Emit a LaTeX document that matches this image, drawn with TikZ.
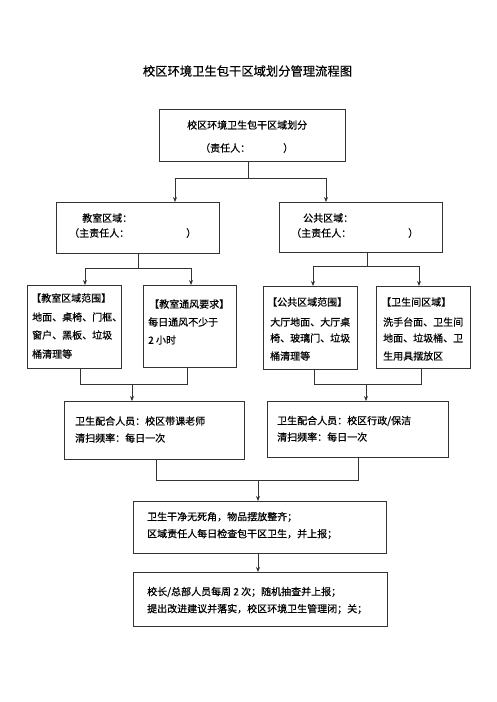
\documentclass[tikz,border=0pt]{standalone}
\usepackage{fontspec}
\setmainfont{Noto Sans CJK SC}[FakeBold=0.5]
\usetikzlibrary{arrows.meta}
\definecolor{linec}{HTML}{333333}
\begin{document}
\begin{tikzpicture}[x=1pt,y=-1pt]
\tikzset{
 box/.style={draw=linec, line width=0.9pt, anchor=north west, inner sep=0pt},
 txt/.style={anchor=west, inner sep=0pt, font=\fontsize{10pt}{12pt}\selectfont},
 conn/.style={draw=linec, line width=0.8pt},
 arr/.style={conn, -{Stealth[length=5pt,width=4pt]}},
}
\useasboundingbox[fill=white] (0,0) rectangle (496,702);

% title
\node[inner sep=0pt, font=\fontsize{12.3pt}{14pt}\selectfont] (title) at (247.5,71) {校区环境卫生包干区域划分管理流程图};

% boxes
\node[box, minimum width=186pt, minimum height=52pt] (A) at (159,109) {};
\node[box, minimum width=163pt, minimum height=51pt] (B) at (56,202) {};
\node[box, minimum width=163pt, minimum height=50pt] (C) at (279,202) {};
\node[box, minimum width=94pt, minimum height=83pt] (D) at (27,285) {};
\node[box, minimum width=93pt, minimum height=82pt] (E) at (143,285) {};
\node[box, minimum width=94pt, minimum height=83pt] (F) at (263,286) {};
\node[box, minimum width=94pt, minimum height=82pt] (G) at (376,286) {};
\node[box, minimum width=180pt, minimum height=58pt] (H) at (64,401) {};
\node[box, minimum width=181pt, minimum height=56pt] (I) at (267,401) {};
\node[box, minimum width=253pt, minimum height=52pt] (J) at (133,501) {};
\node[box, minimum width=254pt, minimum height=54pt] (K) at (133,572) {};

% texts
\node[txt] (tA1) at (187,125) {校区环境卫生包干区域划分};
\node[txt] (tA2) at (200,148) {（责任人：\hspace{33pt}）};
\node[txt] (tB1) at (82,218) {教室区域：};
\node[txt] (tB2) at (69,233) {（主责任人：\hspace{57pt}）};
\node[txt] (tC1) at (303,218) {公共区域：};
\node[txt] (tC2) at (291,233) {（主责任人：\hspace{57pt}）};

\node[txt] (tD1) at (31,298) {【教室区域范围】};
\node[txt] (tD2) at (32,317) {地面、桌椅、门框、};
\node[txt] (tD3) at (32,335) {窗户、黑板、垃圾};
\node[txt] (tD4) at (32,354) {桶清理等};

\node[txt] (tE1) at (149,304) {【教室通风要求】};
\node[txt] (tE2) at (148,322) {每日通风不少于};
\node[txt] (tE3) at (148,340) {2 小时};

\node[txt] (tF1) at (267,302) {【公共区域范围】};
\node[txt] (tF2) at (270,322) {大厅地面、大厅桌};
\node[txt] (tF3) at (270,338) {椅、玻璃门、垃圾};
\node[txt] (tF4) at (270,356) {桶清理等};

\node[txt] (tG1) at (381,302) {【卫生间区域】};
\node[txt] (tG2) at (383,322) {洗手台面、卫生间};
\node[txt] (tG3) at (383,338) {地面、垃圾桶、卫};
\node[txt] (tG4) at (383,356) {生用具摆放区};

\node[txt] (tH1) at (75,421) {卫生配合人员：校区带课老师};
\node[txt] (tH2) at (75,438) {清扫频率：每日一次};
\node[txt] (tI1) at (277,421) {卫生配合人员：校区行政/保洁};
\node[txt] (tI2) at (277,437) {清扫频率：每日一次};

\node[txt] (tJ1) at (147,517) {卫生干净无死角，物品摆放整齐；};
\node[txt] (tJ2) at (147,534) {区域责任人每日检查包干区卫生，并上报；};
\node[txt] (tK1) at (147,592) {校长/总部人员每周 2 次；随机抽查并上报；};
\node[txt] (tK2) at (147,609) {提出改进建议并落实，校区环境卫生管理闭；关；};

% connectors A -> B, C
\coordinate (a1) at (248,178);
\coordinate (aL) at (175,178);
\coordinate (aR) at (326,178);
\draw[conn] (A.south -| a1) -- (a1);
\draw[conn] (aL) -- (aR);
\draw[arr] (aL) -- (aL |- B.north);
\draw[arr] (aR) -- (aR |- C.north);

% B -> D, E
\coordinate (b1) at (138,268);
\coordinate (bL) at (85,268);
\coordinate (bR) at (191,268);
\draw[conn] (B.south -| b1) -- (b1);
\draw[conn] (bL) -- (bR);
\draw[arr] (bL) -- (bL |- D.north);
\draw[arr] (bR) -- (bR |- E.north);

% C -> F, G
\coordinate (c1) at (367,266);
\coordinate (cL) at (313,266);
\coordinate (cR) at (419,266);
\draw[conn] (C.south -| c1) -- (c1);
\draw[conn] (cL) -- (cR);
\draw[arr] (cL) -- (cL |- F.north);
\draw[arr] (cR) -- (cR |- G.north);

% D, E -> H
\coordinate (dL) at (80,384);
\coordinate (dR) at (187,384);
\coordinate (d1) at (132,384);
\draw[conn] (D.south -| dL) -- (dL) -- (dR) -- (E.south -| dR);
\draw[arr] (d1) -- (d1 |- H.north);

% F, G -> I
\coordinate (fL) at (314,384);
\coordinate (fR) at (421,384);
\coordinate (f1) at (366,384);
\draw[conn] (F.south -| fL) -- (fL) -- (fR) -- (G.south -| fR);
\draw[arr] (f1) -- (f1 |- I.north);

% H, I -> J
\coordinate (hL) at (156,480);
\coordinate (hR) at (358,480);
\coordinate (h1) at (258,480);
\draw[conn] (H.south -| hL) -- (hL) -- (hR) -- (I.south -| hR);
\draw[arr] (h1) -- (h1 |- J.north);

% J -> K
\coordinate (j1) at (258,553);
\draw[arr] (J.south -| j1) -- (j1 |- K.north);
\end{tikzpicture}
\end{document}
